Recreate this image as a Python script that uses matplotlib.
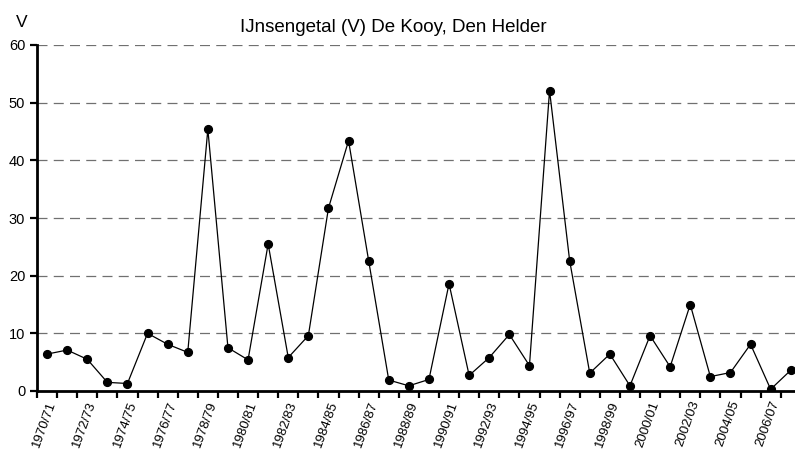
import matplotlib.pyplot as plt
import numpy as np

plt.rcParams['font.family'] = ['Liberation Sans', 'DejaVu Sans']

# seizoenen 1970/71 .. 2007/08
seizoenen = [f"{j}/{str(j + 1)[-2:]}" for j in range(1970, 2008)]
ijsgetal = [6.4, 7.1, 5.5, 1.5, 1.3, 10.0, 8.1, 6.7, 45.4, 7.5,
            5.4, 25.5, 5.8, 9.6, 31.7, 43.4, 22.6, 1.9, 0.9, 2.0,
            18.6, 2.7, 5.8, 9.8, 4.4, 52.1, 22.6, 3.1, 6.4, 0.9,
            9.6, 4.2, 15.0, 2.5, 3.2, 8.1, 0.3, 3.6]
yticks = [0, 10, 20, 30, 40, 50, 60]

fig = plt.figure(figsize=(7.95, 4.54), dpi=100)
n = len(seizoenen)
# de as loopt rechts iets buiten het plaatje
ax = fig.add_axes([37/795, 63/454, n*20.1/795, 346/454])

x = np.arange(n)
ax.plot(x, ijsgetal, color='black', lw=0.9, marker='o', ms=5.6, zorder=3)

ax.set_xlim(-0.5, n - 0.5)
ax.set_ylim(0, 60)
ax.set_yticks(yticks)
ax.set_yticklabels([str(v) for v in yticks], fontsize=10.5)

ax.set_xticks(np.arange(n + 1) - 0.5)
ax.set_xticklabels([])
ax.set_xticks(x[::2], minor=True)
ax.set_xticklabels(seizoenen[::2], minor=True, rotation=70, ha='right',
                   rotation_mode='anchor', fontsize=9.5)
ax.tick_params(axis='x', which='minor', length=0, pad=6)
ax.tick_params(axis='x', which='major', length=5, width=1.6, direction='out')
ax.tick_params(axis='y', length=5, width=1.6, direction='out', pad=3.5)

for g in yticks[1:]:
    ax.axhline(g, color='#707070', lw=0.9, ls=(0, (8, 5)), zorder=1)

for s in ['top', 'right']:
    ax.spines[s].set_visible(False)
ax.spines['left'].set_linewidth(2)
ax.spines['bottom'].set_linewidth(2)

fig.text(393/795, 1 - 32/454, 'IJnsengetal (V) De Kooy, Den Helder',
         ha='center', va='baseline', fontsize=13.5)
fig.text(22/795, 1 - 27/454, 'V', ha='center', va='baseline', fontsize=12.5)

fig.savefig('out.png', dpi=100)
